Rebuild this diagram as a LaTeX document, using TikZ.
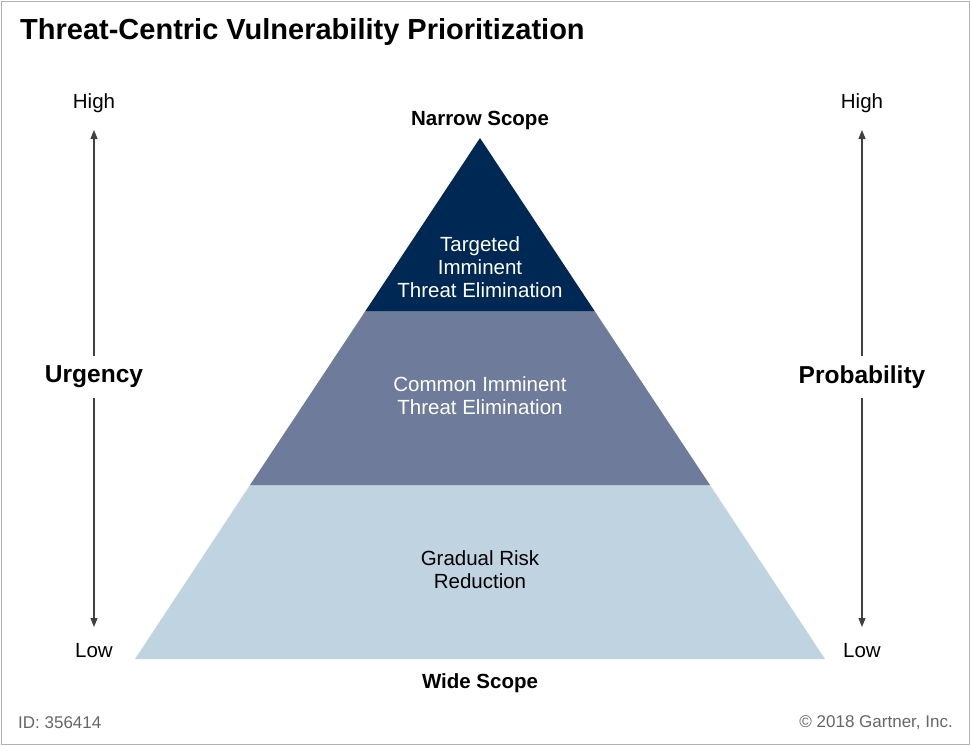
\documentclass[tikz,border=0pt]{standalone}
\usepackage{fontspec}
\setmainfont{Liberation Sans}
\usetikzlibrary{arrows.meta}
\definecolor{navy}{HTML}{002855}
\definecolor{midb}{HTML}{6E7B9B}
\definecolor{lightb}{HTML}{C0D3E0}
\definecolor{arr}{HTML}{404040}
\begin{document}
\begin{tikzpicture}[x=1pt,y=-1pt,
  lbl/.style={font=\fontsize{20.5}{24}\selectfont, text=black},
  tier/.style={align=center, font=\fontsize{20.5}{23}\selectfont},
  axis/.style={font=\fontsize{24.5}{28}\selectfont\bfseries},
  ar/.style={draw=arr, line width=1.2pt, -{Triangle[length=9pt,width=7pt]}}]
\useasboundingbox (0,0) rectangle (970,745);
\draw[gray!60, line width=0.8pt] (1,1) rectangle (969,744);
\node[anchor=west, font=\fontsize{29}{34}\selectfont\bfseries, inner sep=0pt] (title) at (20,32) {Threat-Centric Vulnerability Prioritization};
% pyramid
\fill[lightb] (250,485) -- (710,485) -- (825,659) -- (135,659) -- cycle;
\fill[midb] (365.4,311) -- (594.6,311) -- (710,485) -- (250,485) -- cycle;
\fill[navy] (480,138) -- (594.6,311) -- (365.4,311) -- cycle;
\node[tier, text=white] (t1) at (480,267) {Targeted\\Imminent\\Threat Elimination};
\node[tier, text=white] (t2) at (480,396) {Common Imminent\\Threat Elimination};
\node[tier, text=black] (t3) at (480,570) {Gradual Risk\\Reduction};
\node[font=\fontsize{20.5}{24}\selectfont\bfseries] (ns) at (480,120) {Narrow Scope};
\node[font=\fontsize{20.5}{24}\selectfont\bfseries] (ws) at (480,683) {Wide Scope};
% left axis
\node[lbl] (lh) at (94,103) {High};
\node[lbl] (ll) at (94,651) {Low};
\node[axis] (urg) at (94,377) {Urgency};
\draw[ar] (94,356) coordinate (u1) -- (94,130) coordinate (u2);
\draw[ar] (94,398) coordinate (u3) -- (94,627) coordinate (u4);
% right axis
\node[lbl] (rh) at (862,103) {High};
\node[lbl] (rl) at (862,651) {Low};
\node[axis] (prob) at (862,377) {Probability};
\draw[ar] (862,356) coordinate (p1) -- (862,130) coordinate (p2);
\draw[ar] (862,398) coordinate (p3) -- (862,627) coordinate (p4);
\node[anchor=west, font=\fontsize{17}{20}\selectfont, text=gray!80!black, inner sep=0pt] (id) at (18,723) {ID: 356414};
\node[anchor=east, font=\fontsize{17}{20}\selectfont, text=gray!80!black, inner sep=0pt] (cp) at (953,723) {© 2018 Gartner, Inc.};
\end{tikzpicture}
\end{document}
